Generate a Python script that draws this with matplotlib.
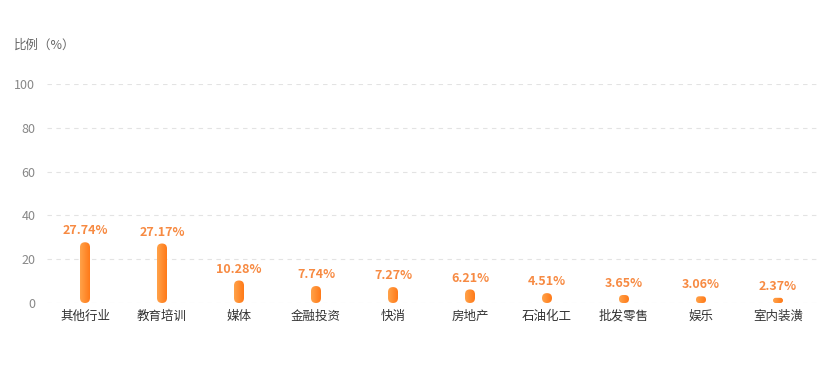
import numpy as np
import matplotlib.pyplot as plt
from matplotlib.patches import FancyBboxPatch
from matplotlib.colors import LinearSegmentedColormap

plt.rcParams['font.family'] = ['Noto Sans CJK SC', 'DejaVu Sans']

categories = ['其他行业', '教育培训', '媒体', '金融投资', '快消', '房地产', '石油化工', '批发零售', '娱乐', '室内装潢']
values = [27.74, 27.17, 10.28, 7.74, 7.27, 6.21, 4.51, 3.65, 3.06, 2.37]
yticks = [0, 20, 40, 60, 80, 100]

W, H = 832, 377
fig = plt.figure(figsize=(W / 100, H / 100), dpi=100)
ax = fig.add_axes([46.5 / W, 74 / H, 770 / W, 219 / H])

x = np.arange(len(categories))
ax.set_xlim(-0.5, len(categories) - 0.5)
ax.set_ylim(0, 100)

bar_w = 10 / 77  # ~10px wide
bars = ax.bar(x, values, width=bar_w, color='none')

# pixel scale of the axes, used to round the bar ends
px_x = 770 / len(categories)   # px per x unit
px_y = 219 / 100               # px per y unit
aspect = px_x / px_y

cmap = LinearSegmentedColormap.from_list('orange', ['#ffa24a', '#ff7a18'])
grad = np.linspace(0, 1, 64).reshape(1, -1)

for b in bars:
    bx, by = b.get_x(), b.get_y()
    bw, bh = b.get_width(), b.get_height()
    h_px = bh * px_y
    r_px = min(5, h_px / 2)
    patch = FancyBboxPatch((bx, by), bw, bh,
                           boxstyle=f"round,pad=0,rounding_size={r_px / px_x}",
                           mutation_aspect=aspect, facecolor='none', edgecolor='none')
    ax.add_patch(patch)
    im = ax.imshow(grad, cmap=cmap, aspect='auto', extent=(bx, bx + bw, by, by + bh),
                   interpolation='bilinear', zorder=2)
    im.set_clip_path(patch)
    b.remove()
    ax.annotate(f'{b.get_height():.2f}%', (bx + bw / 2, by + bh),
                xytext=(0, 3.5), textcoords='offset points', ha='center', va='bottom',
                fontsize=9, fontweight='bold', color='#f78a42')

ax.set_xlim(-0.5, len(categories) - 0.5)
ax.set_ylim(0, 100)
ax.set_xticks(x)
ax.set_xticklabels(categories, fontsize=9, color='#333333')
ax.set_yticks(yticks)
ax.set_yticklabels([str(t) for t in yticks], fontsize=9, color='#888888')
ax.tick_params(axis='both', length=0)
ax.tick_params(axis='x', pad=5)
ax.tick_params(axis='y', pad=8)
ax.grid(axis='y', color='#e3e3e3', linestyle=(0, (4, 4)), linewidth=0.8)
ax.set_axisbelow(True)
for s in ax.spines.values():
    s.set_visible(False)

fig.text(14 / W, 1 - 45 / H, '比例（%）', fontsize=9, color='#666666', va='center', ha='left')

fig.savefig('out.png', dpi=100)
